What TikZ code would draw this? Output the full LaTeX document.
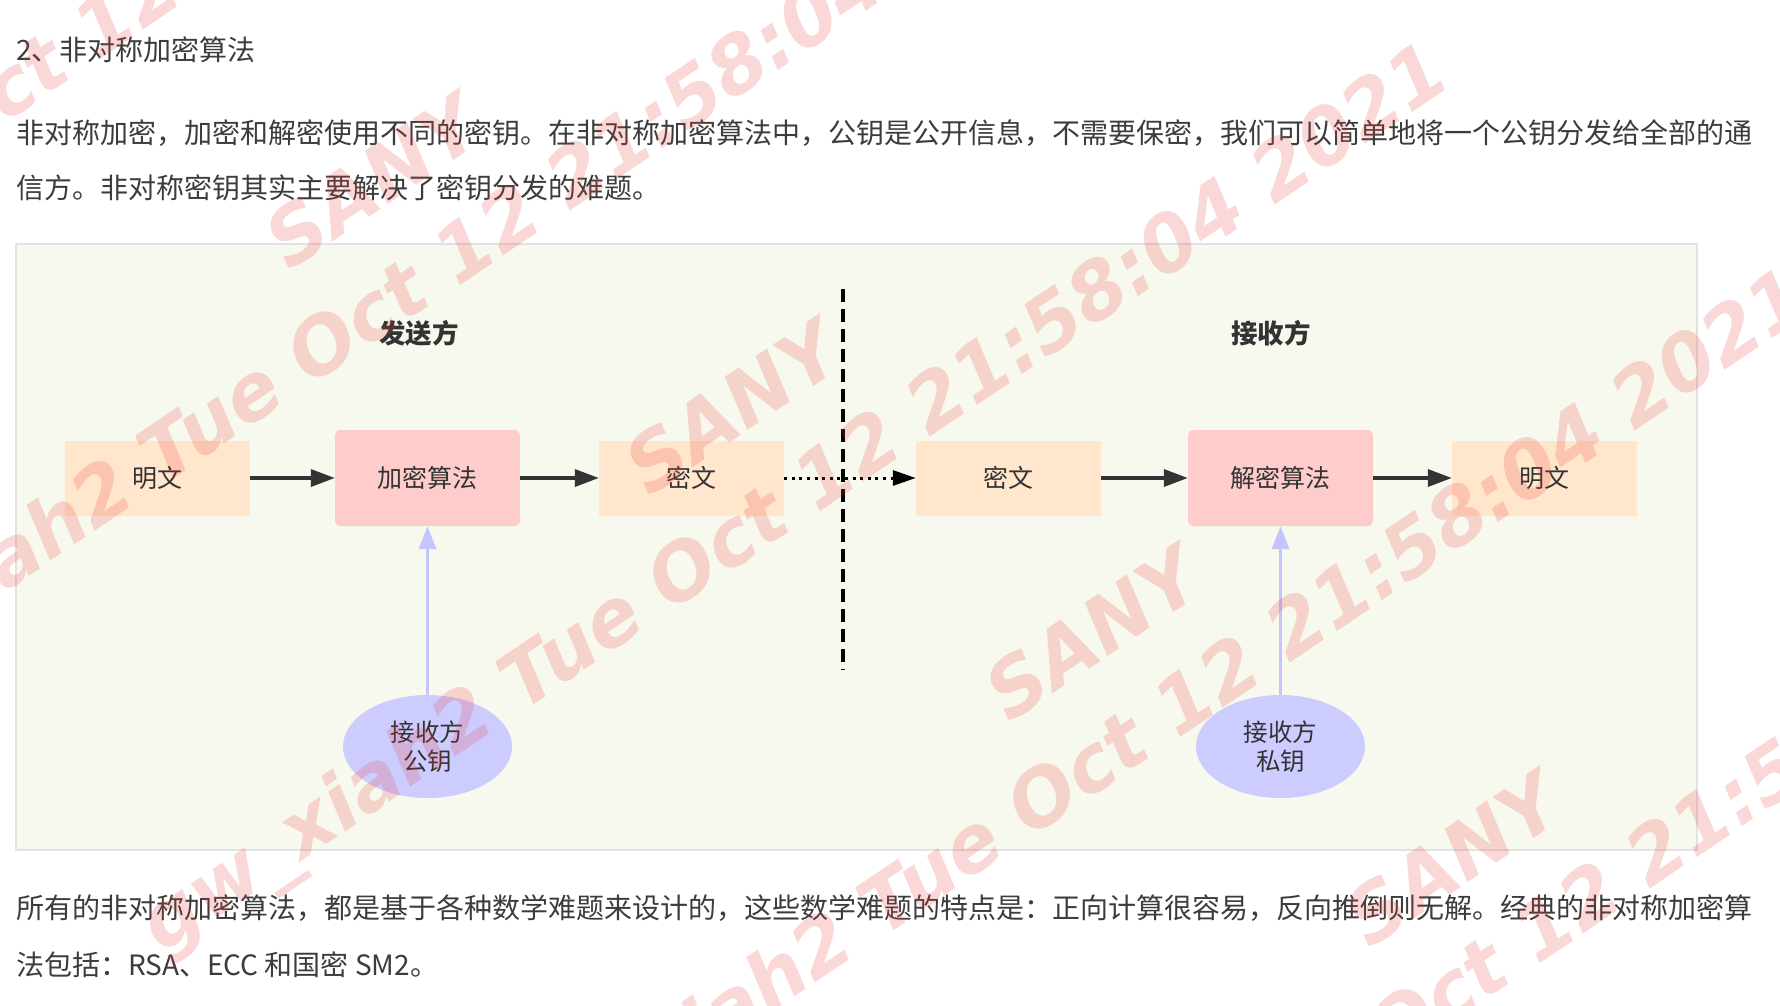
\documentclass[tikz,border=0pt]{standalone}
\usepackage{fontspec}
\setmainfont{Noto Sans CJK SC}
\newfontfamily\wmfont{DejaVu Sans}
\usetikzlibrary{arrows.meta,shapes.geometric}
\definecolor{txt}{HTML}{3C3C3C}
\definecolor{nodetxt}{HTML}{333333}
\definecolor{panelfill}{HTML}{F8F9EE}
\definecolor{panelline}{HTML}{E2E2E2}
\definecolor{peach}{HTML}{FFE6CC}
\definecolor{pinkbox}{HTML}{FFCCCC}
\definecolor{lav}{HTML}{CCCCFF}
\definecolor{lavline}{HTML}{C4C4FF}
\definecolor{arrowdark}{HTML}{333333}
\definecolor{wmred}{HTML}{EB3C3C}
\begin{document}
\begin{tikzpicture}[x=1pt,y=-1pt,
  para/.style={anchor=base west, inner sep=0pt, text=txt, font=\fontsize{28}{34}\selectfont},
  head/.style={inner sep=0pt, text=nodetxt, font=\fontsize{26.5}{30}\selectfont\bfseries},
  plainbox/.style={rectangle, fill=peach, draw=none, minimum width=185pt, minimum height=75pt, inner sep=0pt, text=nodetxt, font=\fontsize{25}{29}\selectfont},
  algbox/.style={rectangle, rounded corners=5pt, fill=pinkbox, draw=none, minimum width=185pt, minimum height=96pt, inner sep=0pt, text=nodetxt, font=\fontsize{25}{29}\selectfont},
  keynode/.style={ellipse, fill=lav, draw=none, minimum width=169pt, minimum height=103pt, inner sep=0pt, align=center, text=nodetxt, font=\fontsize{24.5}{29}\selectfont},
  flow/.style={draw=arrowdark, line width=3.5pt, -{Triangle[length=24pt,width=17pt]}},
  dotflow/.style={draw=black, line width=3pt, dash pattern=on 3pt off 4.6pt, -{Triangle[length=23pt,width=15pt]}},
  keyflow/.style={draw=lavline, line width=3.5pt, -{Triangle[length=23pt,width=17pt]}},
  divider/.style={draw=black, line width=3.5pt, dash pattern=on 13pt off 7pt},
  wm/.style={rotate=34, align=center, inner sep=0pt, text=wmred, text opacity=0.2, font=\wmfont\bfseries\itshape\fontsize{78}{107}\selectfont}
]
\useasboundingbox (0,0) rectangle (1780,1006);
\fill[white] (0,0) rectangle (1780,1006);

% texts above
\node[para] (title) at (16,60.8) {2、非对称加密算法};
\node[para] (p1) at (16,143.8) {非对称加密，加密和解密使用不同的密钥。在非对称加密算法中，公钥是公开信息，不需要保密，我们可以简单地将一个公钥分发给全部的通};
\node[para] (p2) at (16,198.8) {信方。非对称密钥其实主要解决了密钥分发的难题。};

% panel
\draw[fill=panelfill, draw=panelline, line width=1.5pt] (16,244) rectangle (1697,850);

\node[head] (sender) at (419,333) {发送方};
\node[head] (receiver) at (1271,333) {接收方};

\draw[divider] (843,289) -- (843,670);

\node[plainbox] (m1) at (157.5,478) {明文};
\node[algbox] (enc) at (427.5,478) {加密算法};
\node[plainbox] (c1) at (691.5,478) {密文};
\node[plainbox] (c2) at (1008.5,478) {密文};
\node[algbox] (dec) at (1280.5,478) {解密算法};
\node[plainbox] (m2) at (1544.5,478) {明文};

\node[keynode] (pk) at (427.5,746.5) {接收方\\公钥};
\node[keynode] (sk) at (1280.5,746.5) {接收方\\私钥};

\draw[flow] (m1) -- (enc);
\draw[flow] (enc) -- (c1);
\draw[dotflow] (c1) -- (c2);
\draw[flow] (c2) -- (dec);
\draw[flow] (dec) -- (m2);
\draw[keyflow] (pk) -- (enc);
\draw[keyflow] (sk) -- (dec);

% texts below
\node[para] (b1) at (16,918.8) {所有的非对称加密算法，都是基于各种数学难题来设计的，这些数学难题的特点是：正向计算很容易，反向推倒则无解。经典的非对称加密算};
\node[para] (b2) at (16,975.8) {法包括：RSA、ECC 和国密 SM2。};

% watermark
\foreach \k in {0,...,4} {
  \node[wm] (wm\k) at ({47.5+360*\k},{6.5+226*\k}) {SANY\\gw\_xiah2 Tue Oct 12 21:58:04 2021};
}
\end{tikzpicture}
\end{document}
